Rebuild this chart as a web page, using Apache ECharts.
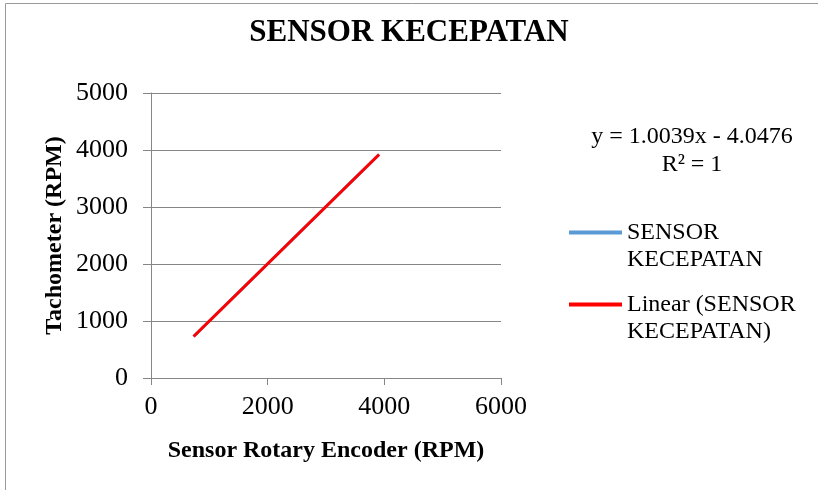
<!DOCTYPE html>
<html>
<head>
<meta charset="utf-8">
<script src="https://cdn.jsdelivr.net/npm/echarts@6/dist/echarts.min.js"></script>
<style>html,body{margin:0;padding:0;background:#fff;}#c{width:818px;height:490px;}</style>
</head>
<body>
<div id="c"></div>
<script>
const titleText = 'SENSOR KECEPATAN';
const xAxisName = 'Sensor Rotary Encoder (RPM)';
const yAxisName = 'Tachometer (RPM)';
const seriesName = 'SENSOR\nKECEPATAN';
const trendName = 'Linear (SENSOR\nKECEPATAN)';
const equationLines = ['y = 1.0039x - 4.0476', 'R² = 1'];
const encoderRPM = [730, 1000, 1500, 2000, 2500, 3000, 3500, 3910];
const tachoRPM = [729, 1000, 1502, 2004, 2506, 3008, 3510, 3921];
const trendX = [730, 3910];
const trendY = [729, 3921];
const xTicks = [0, 2000, 4000, 6000];
const yTicks = [0, 1000, 2000, 3000, 4000, 5000];

const FONT = "'Liberation Serif', 'Times New Roman', serif";
const chart = echarts.init(document.getElementById('c'), null, {renderer: 'canvas'});
const pairs = (xs, ys) => xs.map((x, i) => [x, ys[i]]);

chart.setOption({
  animation: false,
  backgroundColor: '#fff',
  title: {
    text: titleText, left: 'center', top: 12,
    textStyle: {fontFamily: FONT, fontSize: 31, fontWeight: 'bold', color: '#000'}
  },
  grid: {left: 151, right: 317, top: 93, bottom: 112, containLabel: false},
  xAxis: {
    type: 'value', min: xTicks[0], max: xTicks[xTicks.length - 1], interval: 2000,
    name: xAxisName, nameLocation: 'middle', nameGap: 61,
    nameTextStyle: {fontFamily: FONT, fontSize: 24, fontWeight: 'bold', color: '#000'},
    axisLine: {show: true, lineStyle: {color: '#868686', width: 1}},
    axisTick: {show: true, length: 7, lineStyle: {color: '#868686'}},
    axisLabel: {fontFamily: FONT, fontSize: 26, color: '#000', margin: 16, formatter: v => String(v)},
    splitLine: {show: false}
  },
  yAxis: {
    type: 'value', min: yTicks[0], max: yTicks[yTicks.length - 1], interval: 1000,
    name: yAxisName, nameLocation: 'middle', nameGap: 84,
    nameTextStyle: {fontFamily: FONT, fontSize: 24, fontWeight: 'bold', color: '#000'},
    axisLine: {show: true, lineStyle: {color: '#868686', width: 1}},
    axisTick: {show: true, length: 8, lineStyle: {color: '#868686'}},
    axisLabel: {fontFamily: FONT, fontSize: 26, color: '#000', margin: 23, formatter: v => String(v)},
    splitLine: {show: true, lineStyle: {color: '#868686', width: 1}}
  },
  legend: {
    orient: 'vertical', left: 569, top: 192, padding: 0,
    itemWidth: 53, itemHeight: 4, itemGap: -9, icon: 'rect',
    data: [seriesName, trendName],
    formatter: name => '\n' + name,
    textStyle: {fontFamily: FONT, fontSize: 24, color: '#000', lineHeight: 27}
  },
  series: [
    {
      name: seriesName, type: 'line', data: pairs(encoderRPM, tachoRPM),
      showSymbol: false, symbol: 'none',
      lineStyle: {color: '#5B9BD5', width: 3}, itemStyle: {color: '#5B9BD5'}
    },
    {
      name: trendName, type: 'line', data: pairs(trendX, trendY),
      showSymbol: false, symbol: 'none', z: 3,
      lineStyle: {color: '#FF0000', width: 3}, itemStyle: {color: '#FF0000'}
    }
  ],
  graphic: [
    {
      type: 'rect', silent: true, z: -1,
      shape: {x: 5.5, y: 3.5, width: 900, height: 600},
      style: {fill: 'none', stroke: '#9a9a9a', lineWidth: 1}
    },
    {
      type: 'text', x: 692, y: 123, silent: true,
      style: {text: equationLines.join('\n'), fontFamily: FONT, fontSize: 24, lineHeight: 28, fill: '#000', align: 'center', verticalAlign: 'top'}
    }
  ]
});
</script>
</body>
</html>
